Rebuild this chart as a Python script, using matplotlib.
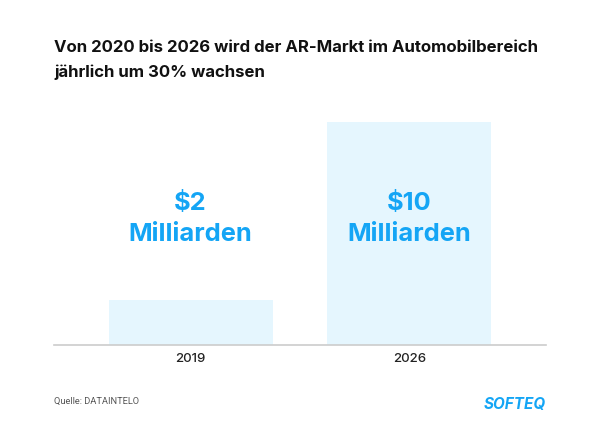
import matplotlib
matplotlib.use("Agg")
import matplotlib.pyplot as plt

plt.rcParams["font.family"] = ["Inter", "DejaVu Sans"]

# values in billions of dollars
years = ["2019", "2026"]
values = [2, 10]
bar_labels = ["$2\nMilliarden", "$10\nMilliarden"]
title = "Von 2020 bis 2026 wird der AR-Markt im Automobilbereich\njährlich um 30% wachsen"
source = "Quelle: DATAINTELO"
logo = "SOFTEQ"

fig = plt.figure(figsize=(6, 4.32), dpi=100)
ax = fig.add_axes([54/600, 1-345/432, 492/600, 223/432])

ax.bar([0, 1], values, width=0.75, color="#e5f6fe")
ax.set_xlim(-0.625, 1.625)
ax.set_ylim(0, 10)
ax.set_xticks([0, 1])
ax.set_xticklabels(years, fontsize=9.5, color="#222222", fontweight="medium")
ax.set_yticks([])
ax.tick_params(axis="x", length=0, pad=6)
for s in ["top", "left", "right"]:
    ax.spines[s].set_visible(False)
ax.spines["bottom"].set_color("#cccccc")
ax.spines["bottom"].set_linewidth(1.2)

# labels sit at the same height above both bars
for i in range(2):
    ax.text(i, 5.67, bar_labels[i], ha="center", va="center", fontsize=18.3,
            fontweight="bold", color="#14a5f5", linespacing=1.45)

fig.text(54/600, 1-40/432, title, ha="left", va="top", fontsize=12.05, fontweight="bold",
         color="#111111", linespacing=1.75)
fig.text(54/600, 1-401/432, source, ha="left", va="center", fontsize=6.7, color="#555555",
         family=["Roboto", "DejaVu Sans"])
fig.text(515/600, 1-404/432, logo, ha="center", va="center", fontsize=11, fontweight="bold",
         style="italic", color="#14a5f5")

plt.savefig("out.png", dpi=100)
